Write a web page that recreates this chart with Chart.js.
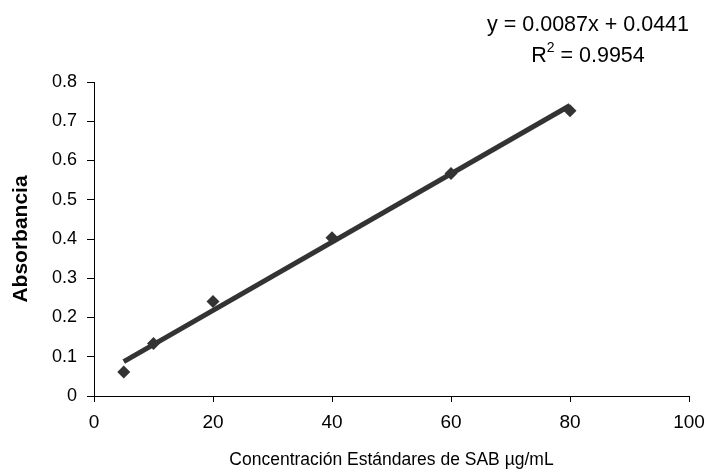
<!DOCTYPE html>
<html lang="es">
<head>
    <meta charset="UTF-8">
    <title>Curva de calibración SAB</title>
    <script src="https://cdn.jsdelivr.net/npm/chart.js"></script>
    <style>
        body {
            margin: 0;
            background: #fff;
        }

        .chart-box {
            width: 709px;
            height: 472px;
        }
    </style>
</head>
<body>
    <div class="chart-box">
        <canvas id="calibrationChart" width="709" height="472"></canvas>
    </div>

    <script>
        // Standard concentrations (µg/mL) and measured absorbance
        const concentrations = [5, 10, 20, 40, 60, 80];
        const absorbance = [0.061, 0.134, 0.241, 0.403, 0.567, 0.727];

        // Linear fit shown on the chart
        const slope = 0.0087;
        const intercept = 0.0441;
        const rSquared = 0.9954;

        // Axis ranges
        const xRange = [0, 100];
        const yRange = [0, 0.8];
        const xStep = 20;
        const yStep = 0.1;

        const FONT = "'Liberation Sans', Arial, sans-serif";
        const INK = '#333333';

        const points = concentrations.map((c, i) => ({ x: c, y: absorbance[i] }));
        const xMin = Math.min(...concentrations);
        const xMax = Math.max(...concentrations);
        const trend = [xMin, xMax].map(x => ({ x: x, y: slope * x + intercept }));

        // Equation and R² written above the plot
        const equationLabel = {
            id: 'equationLabel',
            afterDraw(chart) {
                const ctx = chart.ctx;
                const cx = 588;
                const big = '21.5px ' + FONT;
                const small = '14px ' + FONT;
                ctx.save();
                ctx.fillStyle = '#000';
                ctx.font = big;
                ctx.textBaseline = 'middle';
                ctx.textAlign = 'center';
                ctx.fillText('y = ' + slope.toFixed(4) + 'x + ' + intercept.toFixed(4), cx, 25);

                // R² with a raised small 2
                const head = 'R';
                const tail = ' = ' + rSquared.toFixed(4);
                const headW = ctx.measureText(head).width;
                const tailW = ctx.measureText(tail).width;
                ctx.font = small;
                const supW = ctx.measureText('2').width;
                let x = cx - (headW + supW + tailW) / 2;
                ctx.textAlign = 'left';
                ctx.font = big;
                ctx.fillText(head, x, 56);
                x += headW;
                ctx.font = small;
                ctx.fillText('2', x, 48);
                x += supW;
                ctx.font = big;
                ctx.fillText(tail, x, 56);
                ctx.restore();
            }
        };

        const ctx = document.getElementById('calibrationChart').getContext('2d');
        const chart = new Chart(ctx, {
            type: 'scatter',
            data: {
                datasets: [{
                    type: 'line',
                    label: 'Lineal',
                    data: trend,
                    borderColor: INK,
                    borderWidth: 5,
                    pointRadius: 0,
                    fill: false,
                    order: 2
                }, {
                    label: 'Estándares',
                    data: points,
                    pointStyle: 'rectRot',
                    pointRadius: 6.5,
                    pointBackgroundColor: INK,
                    pointBorderColor: INK,
                    pointBorderWidth: 0,
                    order: 1
                }]
            },
            options: {
                responsive: false,
                animation: false,
                layout: {
                    padding: { top: 82, right: 20, left: 0, bottom: 0 }
                },
                plugins: {
                    legend: { display: false },
                    tooltip: { enabled: false }
                },
                scales: {
                    x: {
                        type: 'linear',
                        min: xRange[0],
                        max: xRange[1],
                        afterFit(scale) {
                            // fixed band height, no extra room for the end labels
                            scale.height = 76;
                            scale.paddingLeft = 0;
                            scale.paddingRight = 0;
                        },
                        ticks: {
                            stepSize: xStep,
                            color: '#000',
                            padding: 9,
                            font: { family: FONT, size: 19 }
                        },
                        grid: {
                            drawOnChartArea: false,
                            tickLength: 6,
                            color: '#000',
                            lineWidth: 1
                        },
                        border: { color: '#000', width: 1 },
                        title: {
                            display: true,
                            text: 'Concentración Estándares de SAB µg/mL',
                            color: '#000',
                            padding: { top: 0, bottom: 1 },
                            font: { family: FONT, size: 17.5 }
                        }
                    },
                    y: {
                        min: yRange[0],
                        max: yRange[1],
                        afterFit(scale) { scale.width = 94; },
                        ticks: {
                            stepSize: yStep,
                            color: '#000',
                            padding: 10,
                            font: { family: FONT, size: 18 },
                            callback: v => (v === 0 ? '0' : v.toFixed(1))
                        },
                        grid: {
                            drawOnChartArea: false,
                            tickLength: 7,
                            color: '#000',
                            lineWidth: 1
                        },
                        border: { color: '#000', width: 1 },
                        title: {
                            display: true,
                            text: 'Absorbancia',
                            color: '#000',
                            padding: { top: 9, bottom: 0 },
                            font: { family: FONT, size: 21, weight: 'bold' }
                        }
                    }
                }
            },
            plugins: [equationLabel]
        });
    </script>
</body>
</html>
